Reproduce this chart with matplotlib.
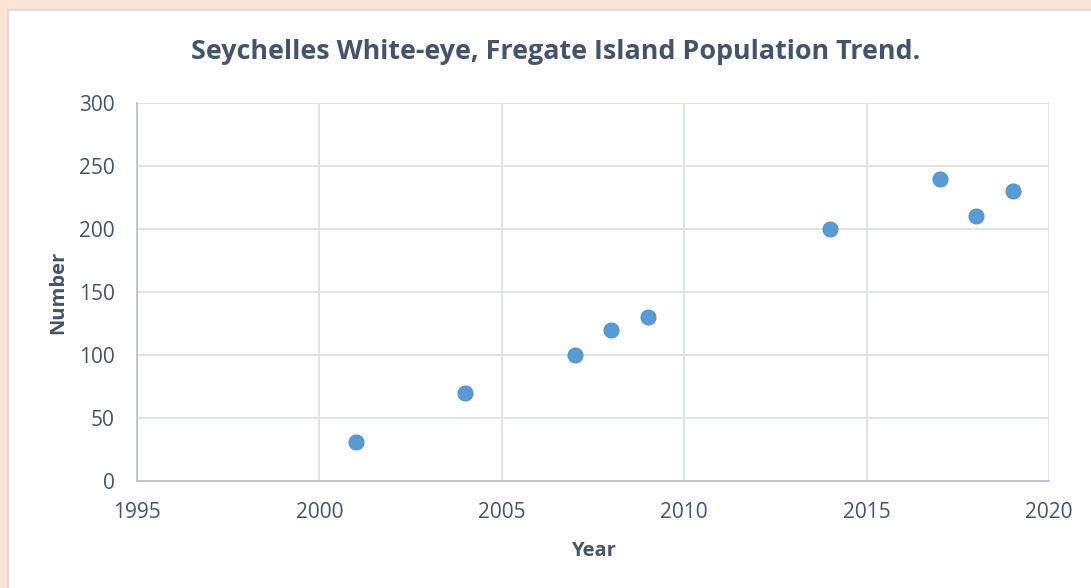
import matplotlib.pyplot as plt
from matplotlib.patches import Rectangle

# population counts
years = [2001, 2004, 2007, 2008, 2009, 2014, 2017, 2018, 2019]
counts = [31, 70, 100, 120, 130, 200, 240, 210, 230]

x_ticks = [1995, 2000, 2005, 2010, 2015, 2020]
y_ticks = [0, 50, 100, 150, 200, 250, 300]

text_col = '#44546A'
plt.rcParams['font.family'] = ['Open Sans', 'DejaVu Sans']

fig = plt.figure(figsize=(10.91, 5.88), dpi=100)
fig.patch.set_facecolor('#FCE4D6')

# white chart panel
W, H = 1091, 588
fig.patches.append(Rectangle((8 / W, -0.05), 1.1, 1 - 10 / H + 0.05,
                             transform=fig.transFigure, facecolor='white',
                             edgecolor='#D9DEE6', linewidth=1.5, zorder=-5))

ax = fig.add_axes([137 / W, 1 - 481 / H, (1049 - 137) / W, (481 - 103) / H])
ax.set_zorder(2)
ax.set_facecolor('white')
ax.set_xlim(1995, 2020)
ax.set_ylim(0, 300)
ax.set_xticks(x_ticks)
ax.set_yticks(y_ticks)
ax.grid(True, color='#DCE0E8', linewidth=1.3)
ax.set_axisbelow(True)

for s in ['top', 'right']:
    ax.spines[s].set_visible(False)
for s in ['left', 'bottom']:
    ax.spines[s].set_color('#BCC5D3')
    ax.spines[s].set_linewidth(1.3)

ax.tick_params(length=0, colors=text_col, labelsize=15)
ax.tick_params(axis='y', pad=16)
ax.tick_params(axis='x', pad=15)

ax.scatter(years, counts, s=115, color='#5B9BD5', edgecolors='#4E8FCC',
           linewidths=0.8, zorder=3, clip_on=False)

ax.set_xlabel('Year', fontsize=14.5, fontweight='bold', color=text_col, labelpad=13)
ax.set_ylabel('Number', fontsize=14.5, fontweight='bold', color=text_col, labelpad=8)
fig.text(0.509, 1 - 52 / H, 'Seychelles White-eye, Fregate Island Population Trend.',
         ha='center', va='center', fontsize=19.4, fontweight='bold', color=text_col,
         zorder=5)

fig.savefig('out.png', dpi=100, facecolor=fig.get_facecolor())
